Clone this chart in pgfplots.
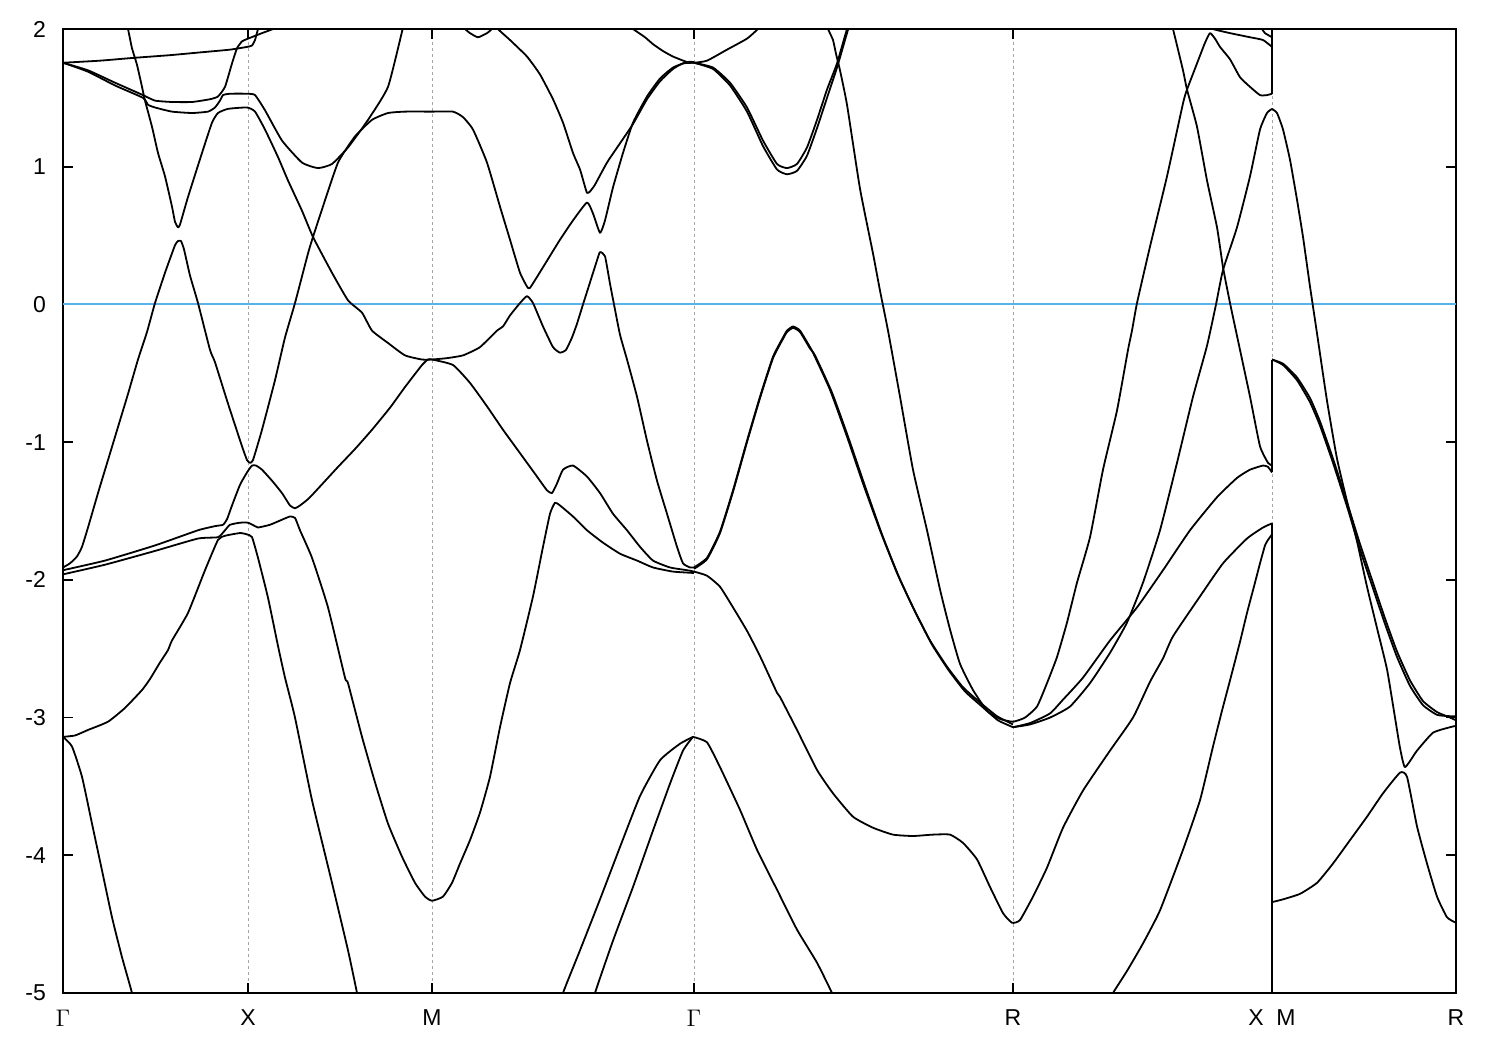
\documentclass[border=0pt]{standalone}
\usepackage{pgfplots}
\pgfplotsset{compat=1.18}
\usepackage{fontspec}
\setmainfont{Liberation Sans}
\definecolor{zeroblue}{RGB}{86,180,233}
\pgfplotsset{band/.style={black, line width=0.9pt, line join=round, smooth, tension=0.3}}

\begin{document}
\begin{tikzpicture}
\begin{axis}[
  name=ax, scale only axis, width=696.5pt, height=482pt,
  xmin=63, xmax=1456, ymin=-5, ymax=2,
  axis line style={line width=1.1pt},
  tick style={black, line width=0.8pt}, major tick length=5pt, tick align=inside,
  xtick={63,248,432,694,1013,1272,1456},
  xticklabels={$\Gamma$,X,M,$\Gamma$,R,{X\hspace{0.55em}M},R},
  ytick={-5,-4,-3,-2,-1,0,1,2},
  yticklabels={-5,-4,-3,-2,-1,0,1,2},
  xmajorgrids, grid style={gray!70, dash pattern=on 1.5pt off 1.5pt, line width=0.5pt},
  tick label style={font=\fontsize{11.5}{13}\selectfont},
  xticklabel style={yshift=-5pt}, yticklabel style={xshift=-5pt},
]
% Fermi level
\addplot[zeroblue, line width=1pt] coordinates {(63,0) (1456,0)};

% G-X top
\addplot[band] coordinates {(63,1.755) (100,1.77) (133,1.79) (170,1.81) (200,1.83) (230,1.85) (247,1.87) (252,1.88) (255,1.92) (258,2.0) (260,2.05)};
\addplot[band] coordinates {(63,1.755) (88,1.70) (115,1.61) (143,1.52) (155,1.48) (172,1.47) (192,1.47) (210,1.49) (218,1.51) (225,1.58) (232,1.75) (237,1.86) (242,1.91) (248,1.93) (262,1.97) (273,2.0) (280,2.03)};
\addplot[band] coordinates {(63,1.755) (88,1.69) (115,1.59) (143,1.50) (148,1.45) (155,1.43) (172,1.40) (192,1.39) (208,1.40) (215,1.43) (220,1.48) (223,1.52) (230,1.53) (247,1.53) (255,1.52) (265,1.41) (282,1.19) (302,1.03) (318,0.99) (332,1.02) (348,1.14) (368,1.34) (388,1.58) (403,2.01) (405,2.05)};
\addplot[band] coordinates {(126,2.05) (128,2.0) (132,1.86) (137,1.74) (142,1.58) (145,1.48) (152,1.29) (158,1.10) (165,0.93) (172,0.71) (175,0.60) (178,0.56) (180,0.58) (188,0.78) (202,1.10) (212,1.32) (218,1.39) (228,1.42) (247,1.43) (255,1.40) (265,1.27) (278,1.07) (288,0.90) (302,0.68) (313,0.49) (332,0.23) (348,0.03) (362,-0.06) (372,-0.19) (388,-0.28) (405,-0.37) (422,-0.40) (432,-0.40) (447,-0.39) (463,-0.37) (480,-0.31) (497,-0.19) (503,-0.16) (510,-0.08) (520,0.01) (527,0.06) (533,0.01) (543,-0.16) (553,-0.31) (560,-0.35) (566,-0.33) (572,-0.24) (577,-0.14) (583,0.0) (590,0.16) (597,0.32) (600,0.38) (605,0.35) (610,0.15) (614,0.0) (620,-0.22) (627,-0.40) (637,-0.67) (647,-0.99) (657,-1.28) (667,-1.52) (677,-1.76) (683,-1.88) (690,-1.91) (694,-1.91)};
\addplot[band] coordinates {(63,-1.91) (70,-1.88) (77,-1.83) (82,-1.76) (88,-1.62) (98,-1.37) (108,-1.13) (118,-0.89) (128,-0.65) (138,-0.40) (147,-0.20) (155,0.01) (165,0.23) (175,0.43) (178,0.46) (181,0.46) (184,0.40) (190,0.21) (198,0.01) (210,-0.33) (215,-0.42) (228,-0.72) (242,-1.03) (247,-1.13) (250,-1.15) (253,-1.13) (262,-0.91) (275,-0.55) (285,-0.24) (295,0.01) (308,0.37) (313,0.49) (322,0.69) (338,1.03) (355,1.22) (372,1.34) (388,1.39) (405,1.40) (432,1.40) (453,1.40) (463,1.36) (473,1.27) (487,1.03) (500,0.71) (510,0.47) (520,0.23) (527,0.13) (530,0.12) (543,0.27) (560,0.47) (573,0.61) (587,0.74) (593,0.66) (600,0.52) (605,0.61) (613,0.85) (623,1.10) (633,1.32) (647,1.51) (660,1.64) (673,1.72) (687,1.76) (694,1.76)};
\addplot[band] coordinates {(63,-1.93) (105,-1.86) (155,-1.75) (198,-1.64) (215,-1.61) (223,-1.60) (227,-1.56) (232,-1.46) (240,-1.31) (247,-1.22) (252,-1.17) (256,-1.17) (262,-1.20) (272,-1.28) (282,-1.37) (290,-1.46) (295,-1.48) (300,-1.46) (310,-1.40) (338,-1.18) (355,-1.05) (372,-0.91) (390,-0.75) (405,-0.60) (422,-0.44) (428,-0.40) (432,-0.40) (453,-0.44) (470,-0.57) (487,-0.74) (503,-0.91) (520,-1.08) (537,-1.25) (547,-1.35) (552,-1.37) (557,-1.30) (563,-1.20) (573,-1.17) (587,-1.25) (600,-1.37) (613,-1.52) (627,-1.64) (640,-1.76) (653,-1.86) (670,-1.91) (687,-1.93) (694,-1.94) (707,-1.97) (720,-2.05) (733,-2.20) (747,-2.37) (757,-2.51) (763,-2.60) (777,-2.82) (780,-2.85) (797,-3.09) (817,-3.38) (833,-3.55) (853,-3.72) (873,-3.80) (893,-3.85) (913,-3.86) (933,-3.85) (950,-3.85) (963,-3.91) (977,-4.03) (990,-4.23) (1003,-4.42) (1012,-4.49) (1020,-4.47) (1033,-4.30) (1047,-4.09) (1063,-3.80) (1083,-3.53) (1110,-3.24) (1133,-3.0) (1150,-2.74) (1163,-2.57) (1173,-2.41) (1200,-2.12) (1223,-1.88) (1247,-1.70) (1263,-1.62) (1272,-1.59)};
\addplot[band] coordinates {(63,-1.96) (105,-1.89) (155,-1.79) (198,-1.70) (218,-1.69) (225,-1.64) (230,-1.60) (240,-1.585) (248,-1.585) (255,-1.61) (258,-1.62) (270,-1.60) (283,-1.56) (290,-1.54) (295,-1.55) (300,-1.64) (312,-1.84) (328,-2.20) (345,-2.71) (348,-2.75) (362,-3.14) (375,-3.47) (388,-3.77) (402,-4.01) (415,-4.20) (425,-4.30) (432,-4.33) (443,-4.30) (452,-4.20) (460,-4.06) (470,-3.89) (480,-3.69) (490,-3.43) (500,-3.07) (510,-2.75) (520,-2.51) (533,-2.12) (543,-1.76) (550,-1.52) (555,-1.44) (560,-1.46) (573,-1.54) (587,-1.64) (603,-1.73) (620,-1.81) (637,-1.86) (653,-1.91) (673,-1.94) (694,-1.95)};
\addplot[band] coordinates {(63,-3.14) (75,-3.13) (88,-3.09) (108,-3.03) (125,-2.93) (142,-2.80) (150,-2.72) (160,-2.60) (168,-2.51) (172,-2.44) (188,-2.24) (205,-1.93) (218,-1.71) (225,-1.68) (240,-1.66) (247,-1.67) (252,-1.69) (258,-1.84) (268,-2.13) (278,-2.48) (285,-2.71) (295,-3.0) (312,-3.6) (332,-4.2) (348,-4.69) (357,-5.0) (359,-5.1)};
\addplot[band] coordinates {(63,-3.14) (72,-3.21) (82,-3.43) (92,-3.77) (102,-4.11) (112,-4.45) (122,-4.74) (132,-5.0) (134,-5.1)};

% M-G
\addplot[band] coordinates {(496,2.05) (498,2.0) (510,1.92) (527,1.80) (540,1.67) (553,1.49) (563,1.32) (573,1.10) (580,0.98) (584,0.88) (587,0.81) (590,0.82) (595,0.87) (607,1.03) (620,1.17) (633,1.31) (647,1.49) (660,1.62) (673,1.71) (683,1.75) (694,1.755)};
\addplot[band] coordinates {(460,2.03) (465,2.0) (470,1.97) (478,1.94) (487,1.97) (492,2.0) (496,2.03)};
\addplot[band] coordinates {(628,2.03) (633,2.0) (645,1.94) (653,1.89) (663,1.84) (673,1.80) (687,1.76) (694,1.755) (707,1.77) (727,1.85) (747,1.93) (758,2.0) (762,2.03)};
\addplot[band] coordinates {(561,-5.1) (563,-5.0) (580,-4.69) (600,-4.32) (620,-3.94) (640,-3.57) (660,-3.31) (680,-3.19) (693,-3.14)};
\addplot[band] coordinates {(593,-5.1) (595,-5.0) (613,-4.62) (633,-4.23) (653,-3.82) (670,-3.48) (683,-3.24) (693,-3.14)};

% G-R
\addplot[band] coordinates {(694,1.755) (713,1.72) (730,1.61) (747,1.43) (763,1.19) (777,1.02) (787,0.99) (797,1.02) (807,1.14) (817,1.34) (827,1.56) (837,1.75) (847,2.0) (850,2.05)};
\addplot[band] coordinates {(694,1.755) (713,1.71) (730,1.59) (747,1.40) (763,1.15) (777,0.98) (787,0.945) (797,0.97) (807,1.08) (817,1.28) (827,1.50) (837,1.72) (845,1.92) (849,2.02)};
\addplot[band] coordinates {(693,-3.14) (707,-3.18) (720,-3.36) (740,-3.67) (757,-3.96) (777,-4.25) (797,-4.54) (817,-4.78) (832,-5.0) (834,-5.05)};
\addplot[band] coordinates {(694,-1.91) (707,-1.84) (720,-1.65) (733,-1.35) (747,-0.99) (760,-0.67) (773,-0.38) (783,-0.24) (787,-0.19) (793,-0.16) (800,-0.19) (810,-0.31) (813,-0.35) (830,-0.62) (847,-0.96) (863,-1.30) (880,-1.64) (897,-1.95) (913,-2.20) (930,-2.44) (947,-2.63) (963,-2.78) (980,-2.89) (997,-2.99) (1013,-3.05)};
\addplot[band] coordinates {(694,-1.92) (707,-1.85) (720,-1.66) (733,-1.36) (747,-1.00) (760,-0.68) (773,-0.39) (783,-0.25) (787,-0.20) (793,-0.17) (800,-0.20) (810,-0.32) (815,-0.37) (832,-0.64) (849,-0.98) (865,-1.32) (882,-1.67) (899,-1.98) (915,-2.23) (932,-2.47) (949,-2.66) (965,-2.81) (982,-2.92) (998,-3.02) (1013,-3.07)};
\addplot[band] coordinates {(826,2.05) (828,2.0) (833,1.92) (836,1.82) (840,1.70) (847,1.45) (860,0.84) (873,0.37) (880,0.10) (888,-0.19) (900,-0.67) (913,-1.20) (927,-1.64) (940,-2.07) (950,-2.36) (960,-2.61) (973,-2.80) (987,-2.95) (1000,-3.01) (1013,-3.03) (1025,-3.0) (1037,-2.92) (1047,-2.75) (1057,-2.56) (1067,-2.31) (1077,-2.02) (1090,-1.69) (1103,-1.20) (1117,-0.77) (1128,-0.33) (1132,-0.19) (1137,0.01) (1150,0.42) (1167,0.93) (1183,1.46) (1187,1.56) (1197,1.75) (1205,1.90) (1210,1.97) (1215,1.93) (1220,1.87) (1230,1.78) (1240,1.65) (1250,1.58) (1260,1.52) (1267,1.52) (1272,1.53)};

% R-X
\addplot[band] coordinates {(1013,-3.07) (1030,-3.04) (1050,-2.97) (1063,-2.87) (1083,-2.71) (1110,-2.44) (1137,-2.20) (1163,-1.93) (1190,-1.64) (1217,-1.40) (1237,-1.26) (1250,-1.20) (1263,-1.17) (1268,-1.18) (1272,-1.22)};
\addplot[band] coordinates {(1013,-3.07) (1030,-3.05) (1050,-3.0) (1070,-2.92) (1090,-2.75) (1110,-2.53) (1127,-2.31) (1143,-2.02) (1160,-1.64) (1177,-1.15) (1193,-0.67) (1207,-0.30) (1216,0.0) (1223,0.25) (1237,0.56) (1250,0.93) (1260,1.27) (1267,1.39) (1272,1.42)};
\addplot[band] coordinates {(1171,2.05) (1173,2.0) (1183,1.70) (1187,1.56) (1197,1.29) (1207,0.90) (1217,0.56) (1223,0.27) (1230,0.01) (1240,-0.33) (1250,-0.67) (1260,-1.03) (1268,-1.15) (1272,-1.17)};
\addplot[band] coordinates {(1111,-5.05) (1113,-5.0) (1127,-4.84) (1143,-4.64) (1160,-4.40) (1183,-3.96) (1200,-3.60) (1213,-3.21) (1222,-2.95) (1230,-2.73) (1240,-2.45) (1247,-2.24) (1255,-2.02) (1260,-1.88) (1265,-1.75) (1268,-1.71) (1272,-1.67)};
\addplot[band] coordinates {(1211,2.03) (1213,2.0) (1230,1.97) (1250,1.94) (1263,1.92) (1272,1.87)};
\addplot[band] coordinates {(1260,2.03) (1262,2.0) (1265,1.97) (1272,1.94)};

% jump X|M
\addplot[band] coordinates {(1272,2.05) (1272,1.53)};
\addplot[band] coordinates {(1272,-0.40) (1272,-1.22)};
\addplot[band] coordinates {(1272,-1.59) (1272,-5.05)};

% M-R
\addplot[band] coordinates {(1272,1.42) (1277,1.39) (1283,1.27) (1290,1.05) (1297,0.76) (1303,0.49) (1310,0.13) (1317,-0.21) (1327,-0.70) (1337,-1.12) (1348,-1.46) (1357,-1.72) (1367,-2.05) (1377,-2.35) (1387,-2.65) (1395,-3.0) (1400,-3.22) (1405,-3.36) (1417,-3.24) (1433,-3.11) (1450,-3.07) (1456,-3.06)};
\addplot[band] coordinates {(1272,-0.40) (1283,-0.43) (1297,-0.53) (1310,-0.68) (1320,-0.85) (1333,-1.12) (1348,-1.46) (1360,-1.74) (1372,-2.0) (1385,-2.28) (1397,-2.52) (1410,-2.73) (1423,-2.88) (1437,-2.96) (1450,-3.0) (1456,-3.02)};
\addplot[band] coordinates {(1272,-0.40) (1283,-0.44) (1297,-0.55) (1310,-0.71) (1320,-0.88) (1333,-1.15) (1348,-1.49) (1360,-1.78) (1372,-2.04) (1385,-2.32) (1397,-2.56) (1410,-2.77) (1423,-2.91) (1437,-2.98) (1450,-2.99) (1456,-2.99)};
\addplot[band] coordinates {(1272,-4.34) (1283,-4.32) (1300,-4.28) (1317,-4.20) (1333,-4.06) (1350,-3.89) (1367,-3.72) (1383,-3.55) (1400,-3.40) (1407,-3.43) (1417,-3.79) (1427,-4.06) (1437,-4.30) (1447,-4.45) (1456,-4.49)};
\end{axis}
\pgfresetboundingbox
\path[use as bounding box] ([xshift=-31.5pt,yshift=-28.5pt]ax.south west) rectangle ([xshift=22pt,yshift=14.5pt]ax.north east);
\end{tikzpicture}
\end{document}
